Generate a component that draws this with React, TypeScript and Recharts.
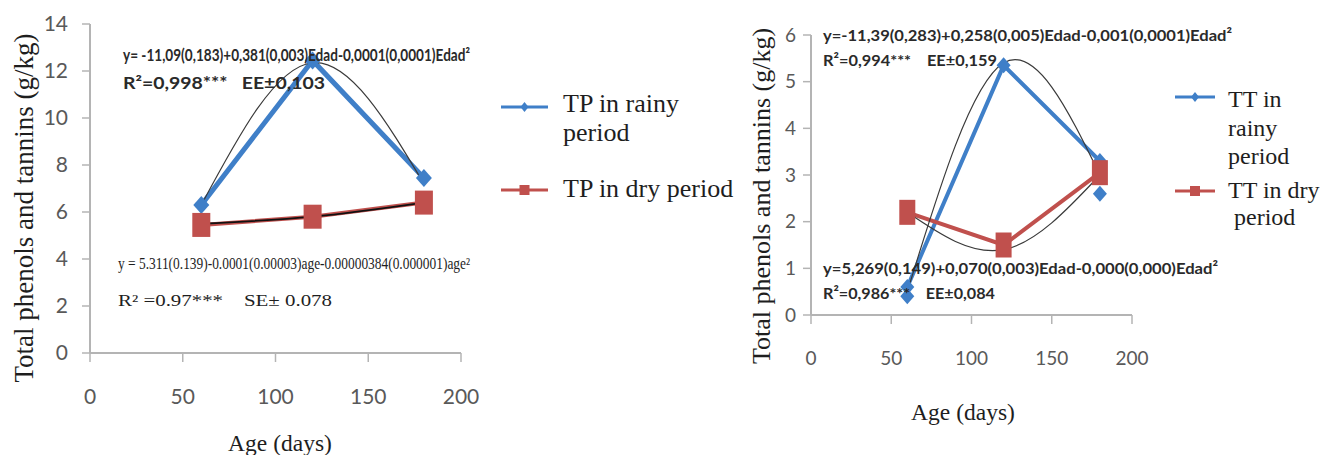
import React from "react";
import { LineChart, Line, XAxis, YAxis } from "recharts";

const BLUE = "#3f7fc8";
const RED = "#c0504d";
const FIT = "#3a3a3a";
const AXIS = "#b4b4b4";
const TICK = "#595959";
const SANS = 'Lato, "DejaVu Sans Condensed", sans-serif';
const SERIF = '"Liberation Serif", "DejaVu Serif", serif';

// shared x values (days)
const ages = [60, 120, 180];
const xTicks = [0, 50, 100, 150, 200];

// left panel: total phenols
const tpRainy = [6.3, 12.45, 7.45];
const tpDry = [5.45, 5.8, 6.4];
const tpRainyFit = [6.3, 12.35, 7.2];
const tpDryFit = [5.5, 5.8, 6.4];
const tpTicks = [0, 2, 4, 6, 8, 10, 12, 14];

// right panel: total tannins
const ttRainy = [0.6, 5.35, 3.3];
const ttRainyRep = [0.4, null, 2.6];
const ttDry = [2.2, 1.5, 3.05];
const ttRainyFit = [0.5, 5.4, 3.0];
const ttDryFit = [2.2, 1.4, 3.0];
const ttTicks = [0, 1, 2, 3, 4, 5, 6];

const tpData = ages.map((age, i) => ({
  age,
  rainy: tpRainy[i],
  dry: tpDry[i],
  rainyFit: tpRainyFit[i],
  dryFit: tpDryFit[i],
}));

const ttData = ages.map((age, i) => ({
  age,
  rainy: ttRainy[i],
  rep: ttRainyRep[i],
  dry: ttDry[i],
  rainyFit: ttRainyFit[i],
  dryFit: ttDryFit[i],
}));

function makeDiamond(w: number, h: number) {
  return (props: any) => {
    const { cx, cy, value } = props;
    if (cx == null || cy == null || value == null) return <g />;
    return (
      <path
        d={`M${cx},${cy - h} L${cx + w},${cy} L${cx},${cy + h} L${cx - w},${cy} Z`}
        fill={BLUE}
      />
    );
  };
}

function makeSquare(w: number, h: number) {
  return (props: any) => {
    const { cx, cy, value } = props;
    if (cx == null || cy == null || value == null) return <g />;
    return <rect x={cx - w / 2} y={cy - h / 2} width={w} height={h} fill={RED} />;
  };
}

function Panel({
  data,
  left,
  width,
  margin,
  yWidth,
  xHeight,
  yMax,
  yTicks,
  fontSize,
  yTickMargin,
  xTickMargin,
  big,
}: any) {
  return (
    <div style={{ position: "absolute", left, top: 0, width, height: 455 }}>
      <LineChart width={width} height={455} data={data} margin={margin}>
        <XAxis
          dataKey="age"
          type="number"
          domain={[0, 200]}
          ticks={xTicks}
          height={xHeight}
          axisLine={{ stroke: AXIS, strokeWidth: 2 }}
          tickLine={{ stroke: AXIS, strokeWidth: 1.5 }}
          tickSize={9}
          tickMargin={xTickMargin}
          tick={{ fontSize, fill: TICK, fontFamily: SANS }}
        />
        <YAxis
          type="number"
          domain={[0, yMax]}
          ticks={yTicks}
          width={yWidth}
          axisLine={{ stroke: AXIS, strokeWidth: 2 }}
          tickLine={{ stroke: AXIS, strokeWidth: 1.5 }}
          tickSize={8}
          tickMargin={yTickMargin}
          tick={{ fontSize, fill: TICK, fontFamily: SANS }}
        />
        <Line
          dataKey="rainy"
          type="linear"
          stroke={BLUE}
          strokeWidth={big ? 5 : 4}
          dot={makeDiamond(big ? 8 : 7, big ? 9 : 8)}
          activeDot={false}
          isAnimationActive={false}
        />
        {data[0].rep !== undefined && (
          <Line
            dataKey="rep"
            type="linear"
            stroke="none"
            dot={makeDiamond(7, 8)}
            activeDot={false}
            isAnimationActive={false}
          />
        )}
        <Line
          dataKey="dry"
          type="linear"
          stroke={RED}
          strokeWidth={4}
          dot={makeSquare(big ? 18 : 16, big ? 24 : 25)}
          activeDot={false}
          isAnimationActive={false}
        />
        <Line
          dataKey="rainyFit"
          type="natural"
          stroke={FIT}
          strokeWidth={1.2}
          dot={false}
          activeDot={false}
          isAnimationActive={false}
        />
        <Line
          dataKey="dryFit"
          type="natural"
          stroke={big ? "#111" : FIT}
          strokeWidth={big ? 1.8 : 1.2}
          dot={false}
          activeDot={false}
          isAnimationActive={false}
        />
      </LineChart>
    </div>
  );
}

function LegendIcon({ x1, x2, y, color, square }: any) {
  const cx = (x1 + x2) / 2;
  return (
    <g>
      <line x1={x1} x2={x2} y1={y} y2={y} stroke={color} strokeWidth={3} />
      {square ? (
        <rect x={cx - 5} y={y - 5} width={10} height={10} fill={color} />
      ) : (
        <path d={`M${cx},${y - 5} L${cx + 4},${y} L${cx},${y + 5} L${cx - 4},${y} Z`} fill={color} />
      )}
    </g>
  );
}

function Overlay() {
  const eqBold = { fontFamily: SANS, fontWeight: 700, fill: "#2a2a2a", whiteSpace: "pre" } as any;
  const eqSerif = { fontFamily: SERIF, fill: "#1e1e1e", whiteSpace: "pre" } as any;
  const lab = { fontFamily: SERIF, fill: "#1e1e1e", whiteSpace: "pre" } as any;
  return (
    <svg
      width={1320}
      height={455}
      xmlSpace="preserve"
      style={{ position: "absolute", left: 0, top: 0, pointerEvents: "none" }}
    >
      {/* left panel annotations */}
      <text x={123} y={61} fontSize={17} style={eqBold} textLength={347} lengthAdjust="spacingAndGlyphs">
        y= -11,09(0,183)+0,381(0,003)Edad-0,0001(0,0001)Edad²
      </text>
      <text x={123} y={89} fontSize={17} style={eqBold} textLength={202} lengthAdjust="spacingAndGlyphs">
        R²=0,998***   EE±0,103
      </text>
      <text x={118} y={269} fontSize={16} style={eqSerif} textLength={352} lengthAdjust="spacingAndGlyphs">
        y = 5.311(0.139)-0.0001(0.00003)age-0.00000384(0.000001)age²
      </text>
      <text x={118} y={306} fontSize={16} style={eqSerif} textLength={214} lengthAdjust="spacingAndGlyphs">
        R² =0.97***    SE± 0.078
      </text>
      <text
        x={0}
        y={0}
        fontSize={27}
        style={lab}
        textAnchor="middle"
        transform="translate(33,208) rotate(-90)"
      >
        Total phenols and tannins (g/kg)
      </text>
      <text x={280} y={451} fontSize={23.5} style={lab} textAnchor="middle">
        Age (days)
      </text>
      <LegendIcon x1={501} x2={548} y={107} color={BLUE} />
      <LegendIcon x1={501} x2={548} y={190} color={RED} square />
      <text x={563} y={112} fontSize={26} style={lab}>TP in rainy</text>
      <text x={563} y={141} fontSize={26} style={lab}>period</text>
      <text x={563} y={197} fontSize={26} style={lab}>TP in dry period</text>

      {/* right panel annotations */}
      <text x={823} y={41} fontSize={16} style={eqBold} textLength={409} lengthAdjust="spacingAndGlyphs">
        y=-11,39(0,283)+0,258(0,005)Edad-0,001(0,0001)Edad²
      </text>
      <text x={823} y={66} fontSize={16} style={eqBold} textLength={174} lengthAdjust="spacingAndGlyphs">
        R²=0,994***    EE±0,159
      </text>
      <text x={823} y={274} fontSize={16} style={eqBold} textLength={395} lengthAdjust="spacingAndGlyphs">
        y=5,269(0,149)+0,070(0,003)Edad-0,000(0,000)Edad²
      </text>
      <text x={823} y={299} fontSize={16} style={eqBold} textLength={172} lengthAdjust="spacingAndGlyphs">
        R²=0,986***    EE±0,084
      </text>
      <text
        x={0}
        y={0}
        fontSize={26}
        style={lab}
        textAnchor="middle"
        transform="translate(770,196) rotate(-90)"
      >
        Total phenols and tannins (g/kg)
      </text>
      <text x={963} y={420} fontSize={23.5} style={lab} textAnchor="middle">
        Age (days)
      </text>
      <LegendIcon x1={1175} x2={1215} y={97} color={BLUE} />
      <LegendIcon x1={1175} x2={1215} y={191} color={RED} square />
      <text x={1228} y={107} fontSize={24} style={lab}>TT in</text>
      <text x={1228} y={136} fontSize={24} style={lab}>rainy</text>
      <text x={1228} y={164} fontSize={24} style={lab}>period</text>
      <text x={1228} y={198} fontSize={24} style={lab}>TT in dry</text>
      <text x={1234} y={225} fontSize={24} style={lab}>period</text>
    </svg>
  );
}

export default function App() {
  return (
    <div style={{ position: "absolute", left: 0, top: 0, width: 1320, height: 455, background: "#fff" }}>
      <Panel
        data={tpData}
        left={0}
        width={480}
        margin={{ top: 24, right: 19, left: 0, bottom: 0 }}
        yWidth={90}
        xHeight={102}
        yMax={14}
        yTicks={tpTicks}
        fontSize={21}
        yTickMargin={14}
        xTickMargin={27}
        big
      />
      <Panel
        data={ttData}
        left={730}
        width={430}
        margin={{ top: 35, right: 28, left: 0, bottom: 0 }}
        yWidth={81}
        xHeight={140}
        yMax={6}
        yTicks={ttTicks}
        fontSize={19}
        yTickMargin={7}
        xTickMargin={28}
      />
      <Overlay />
    </div>
  );
}
